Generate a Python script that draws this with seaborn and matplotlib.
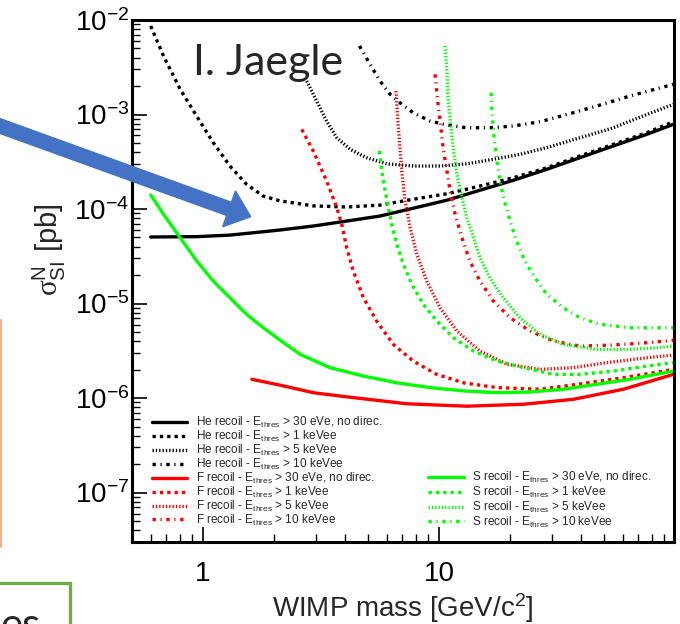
import numpy as np
import pandas as pd
import matplotlib
matplotlib.use("Agg")
import matplotlib.pyplot as plt
import seaborn as sns
from matplotlib.lines import Line2D
from matplotlib.patches import FancyArrow, Rectangle
from matplotlib.transforms import IdentityTransform
from matplotlib.ticker import NullFormatter

# ---------------- data (WIMP mass [GeV/c^2], sigma [pb]) ----------------
he_30_m = [0.60, 0.94, 1.30, 1.80, 2.12, 2.93, 4.06, 5.62, 7.78, 10.8, 14.9, 20.6, 28.6, 39.5, 54.8, 75.9, 98.4]
he_30_s = [5.06e-5, 5.1e-5, 5.3e-5, 5.75e-5, 6.0e-5, 6.61e-5, 7.46e-5, 8.43e-5, 1.02e-4, 1.24e-4, 1.58e-4, 2.01e-4, 2.63e-4, 3.49e-4, 4.65e-4, 6.17e-4, 7.87e-4]

he_1_m = [0.60, 0.68, 0.80, 0.94, 1.105, 1.30, 1.53, 1.80, 2.12, 2.93, 4.06, 5.62, 7.78, 10.8, 14.9, 20.6, 28.6, 39.5, 54.8, 75.9, 98.4]
he_1_s = [8.65e-3, 4.16e-3, 1.85e-3, 9.6e-4, 5.04e-4, 2.85e-4, 1.82e-4, 1.37e-4, 1.22e-4, 1.08e-4, 1.05e-4, 1.10e-4, 1.27e-4, 1.45e-4, 1.75e-4, 2.14e-4, 2.73e-4, 3.64e-4, 4.84e-4, 6.42e-4, 8.39e-4]

he_5_m = [2.75, 3.03, 3.34, 3.69, 4.20, 4.94, 6.00, 7.78, 10.1, 13.1, 17.0, 22.0, 28.6, 39.5, 54.8, 75.9, 98.4]
he_5_s = [2.26e-3, 1.39e-3, 8.5e-4, 5.67e-4, 4.28e-4, 3.49e-4, 3.01e-4, 2.85e-4, 2.85e-4, 3.01e-4, 3.36e-4, 3.79e-4, 4.46e-4, 5.67e-4, 7.24e-4, 1.0e-3, 1.28e-3]

he_10_m = [4.60, 5.10, 5.62, 6.20, 6.83, 7.78, 9.16, 10.8, 13.1, 16.4, 20.6, 26.8, 34.8, 46.6, 64.4, 98.4]
he_10_s = [5.31e-3, 3.40e-3, 2.26e-3, 1.64e-3, 1.33e-3, 1.04e-3, 8.53e-4, 7.74e-4, 7.24e-4, 7.24e-4, 7.55e-4, 8.39e-4, 1.0e-3, 1.23e-3, 1.57e-3, 2.09e-3]

f_30_m = [1.61, 2.12, 2.93, 3.81, 7.3, 13.1, 22.8, 37.1, 60.4, 98.4]
f_30_s = [1.58e-6, 1.37e-6, 1.14e-6, 1.05e-6, 8.7e-7, 8.2e-7, 8.6e-7, 9.7e-7, 1.24e-6, 1.78e-6]

f_1_m = [2.62, 2.93, 3.34, 3.69, 3.87, 4.06, 4.33, 4.78, 5.44, 6.40, 7.78, 9.78, 12.7, 17.6, 26.8, 37.1, 60.4, 98.4]
f_1_s = [6.96e-4, 4.11e-4, 1.98e-4, 1.03e-4, 6.89e-5, 3.89e-5, 2.21e-5, 1.15e-5, 6.53e-6, 3.70e-6, 2.46e-6, 1.78e-6, 1.45e-6, 1.29e-6, 1.24e-6, 1.38e-6, 1.64e-6, 2.01e-6]

f_5_m = [6.57, 6.66, 6.79, 6.95, 7.18, 7.54, 8.05, 8.87, 10.1, 11.9, 14.9, 19.4, 26.8, 37.1, 51.4, 75.9, 98.4]
f_5_s = [1.77e-3, 1.0e-3, 5.25e-4, 2.52e-4, 1.22e-4, 6.34e-5, 3.32e-5, 1.73e-5, 9.0e-6, 5.12e-6, 3.14e-6, 2.28e-6, 2.01e-6, 2.10e-6, 2.37e-6, 2.67e-6, 2.85e-6]

f_10_m = [9.62, 9.83, 10.1, 10.4, 10.8, 11.2, 11.7, 12.5, 13.5, 14.9, 17.0, 20.0, 24.3, 30.5, 39.5, 54.8, 75.9, 98.4]
f_10_s = [2.66e-3, 1.51e-3, 8.53e-4, 4.46e-4, 2.52e-4, 1.43e-4, 8.79e-5, 4.97e-5, 2.82e-5, 1.73e-5, 1.06e-5, 7.08e-6, 5.12e-6, 4.01e-6, 3.55e-6, 3.64e-6, 3.85e-6, 4.08e-6]

s_30_m = [0.60, 0.68, 0.80, 0.94, 1.105, 1.30, 1.53, 1.80, 2.12, 2.58, 3.45, 4.78, 6.62, 9.16, 12.7, 17.6, 24.3, 33.6, 46.6, 64.4, 98.4]
s_30_s = [1.41e-4, 8.8e-5, 4.97e-5, 2.82e-5, 1.73e-5, 1.15e-5, 7.69e-6, 5.55e-6, 4.1e-6, 2.90e-6, 2.10e-6, 1.71e-6, 1.45e-6, 1.29e-6, 1.19e-6, 1.14e-6, 1.16e-6, 1.24e-6, 1.40e-6, 1.58e-6, 1.93e-6]

s_1_m = [5.59, 5.72, 5.91, 6.10, 6.30, 6.62, 7.06, 7.66, 8.58, 9.78, 11.5, 14.0, 17.6, 22.8, 30.5, 39.5, 54.8, 75.9, 98.4]
s_1_s = [4.11e-4, 2.52e-4, 1.55e-4, 1.03e-4, 6.89e-5, 4.23e-5, 2.60e-5, 1.60e-5, 9.8e-6, 6.53e-6, 4.35e-6, 3.14e-6, 2.46e-6, 2.10e-6, 1.78e-6, 1.78e-6, 1.93e-6, 2.18e-6, 2.37e-6]

s_5_m = [10.6, 10.8, 10.9, 11.2, 11.5, 11.9, 12.5, 13.1, 14.0, 14.9, 16.4, 18.7, 22.0, 26.8, 33.6, 46.6, 64.4, 83.6, 98.4]
s_5_s = [5.31e-3, 2.89e-3, 1.51e-3, 7.87e-4, 4.11e-4, 2.33e-4, 1.32e-4, 8.09e-5, 4.97e-5, 3.05e-5, 1.87e-5, 1.15e-5, 7.08e-6, 4.72e-6, 3.70e-6, 3.27e-6, 3.27e-6, 3.40e-6, 3.55e-6]

s_10_m = [16.6, 16.8, 17.1, 17.6, 18.1, 18.9, 20.0, 21.3, 23.1, 25.5, 28.6, 33.6, 39.5, 48.1, 64.4, 83.6, 98.4]
s_10_s = [1.70e-3, 1.0e-3, 5.67e-4, 3.22e-4, 1.98e-4, 1.22e-4, 7.46e-5, 4.58e-5, 2.82e-5, 1.87e-5, 1.25e-5, 9.0e-6, 7.08e-6, 6.03e-6, 5.55e-6, 5.55e-6, 5.55e-6]

thresholds = ["> 30 eVe, no direc.", "> 1 keVee", "> 5 keVee", "> 10 keVee"]
recoils = ["He", "F", "S"]
x_tick_values = [1, 10]
x_tick_labels = ["1", "10"]

# ---------------- styling ----------------
sns.set_style("ticks")
plt.rcParams['font.family'] = ['Liberation Sans', 'DejaVu Sans']
plt.rcParams['mathtext.fontset'] = 'custom'
plt.rcParams['mathtext.rm'] = 'Liberation Serif'
plt.rcParams['mathtext.it'] = 'Liberation Serif:italic'
plt.rcParams['mathtext.bf'] = 'Liberation Serif:bold'
plt.rcParams['mathtext.default'] = 'regular'

colors = {"He": "#000000", "F": "#ff0000", "S": "#00ff00"}
line_styles = [
    dict(linestyle='-', linewidth=2.4),
    dict(linestyle=(0, (1.0, 1.2)), linewidth=2.4),
    dict(linestyle=(0, (0.4, 0.6)), linewidth=2.4),
    dict(linestyle=(0, (1.0, 1.4, 0.35, 1.4)), linewidth=2.4),
]

curves = {
    ("He", 0): (he_30_m, he_30_s), ("He", 1): (he_1_m, he_1_s),
    ("He", 2): (he_5_m, he_5_s), ("He", 3): (he_10_m, he_10_s),
    ("F", 0): (f_30_m, f_30_s), ("F", 1): (f_1_m, f_1_s),
    ("F", 2): (f_5_m, f_5_s), ("F", 3): (f_10_m, f_10_s),
    ("S", 0): (s_30_m, s_30_s), ("S", 1): (s_1_m, s_1_s),
    ("S", 2): (s_5_m, s_5_s), ("S", 3): (s_10_m, s_10_s),
}

frames = []
for (rec, k), (m, s) in curves.items():
    frames.append(pd.DataFrame({"mass": m, "sigma": s,
                                "recoil": rec, "thr": k}))
df = pd.concat(frames, ignore_index=True)

W, H = 680, 624
fig = plt.figure(figsize=(W / 100, H / 100), dpi=100)
ax = fig.add_axes([132 / W, (H - 542) / H, (673.5 - 132) / W, (542 - 20) / H])
ax.set_xscale('log')
ax.set_yscale('log')

for (rec, k) in curves:
    sub = df[(df.recoil == rec) & (df.thr == k)]
    sns.lineplot(data=sub, x="mass", y="sigma", ax=ax, color=colors[rec],
                 estimator=None, sort=False, errorbar=None, legend=False,
                 **line_styles[k])

ax.set_xlim(0.5, 98.5)
ax.set_ylim(3e-8, 1e-2)

for sp in ax.spines.values():
    sp.set_visible(True)
    sp.set_linewidth(2.2)
    sp.set_color('black')

ax.set_xticks(x_tick_values, labels=x_tick_labels)
ax.xaxis.set_minor_formatter(NullFormatter())
ax.tick_params(which='both', direction='in', top=False, right=False, colors='black')
ax.tick_params(which='major', length=10.8, width=1.2, labelsize=20)
ax.tick_params(which='minor', length=5.8, width=1.0)
ax.tick_params(axis='x', which='major', pad=14)
ax.tick_params(axis='y', which='major', pad=2)

ax.set_xlabel("WIMP mass [GeV/c$^{2}$]", fontsize=20)
ax.xaxis.set_label_coords(0.5, -0.094)
ax.set_ylabel(r"$\mathrm{\sigma}_{SI}^{N}$ [pb]", fontsize=21)
ax.yaxis.set_label_coords(-0.118, 0.56)

def lab(rec, k):
    return f"{rec} recoil - E$_{{thres}}$ {thresholds[k]}"

h_left, l_left, h_right, l_right = [], [], [], []
for (rec, k) in curves:
    h = Line2D([], [], color=colors[rec], **line_styles[k])
    if rec == "S":
        h_right.append(h); l_right.append(lab(rec, k))
    else:
        h_left.append(h); l_left.append(lab(rec, k))

leg_kw = dict(frameon=False, fontsize=8.5, handlelength=3.0, handletextpad=0.75,
              borderpad=0, borderaxespad=0, loc='upper left')
leg1 = ax.legend(h_left, l_left, bbox_to_anchor=(0.037, 0.243),
                 labelspacing=-0.1, **leg_kw)
ax.add_artist(leg1)
ax.legend(h_right, l_right, bbox_to_anchor=(0.547, 0.138),
          labelspacing=-0.02, **leg_kw)

# ---------------- slide decorations ----------------
fig.text(193 / W, 1 - 75 / H, "I. Jaegle", fontsize=31,
         family=['Lato', 'DejaVu Sans'], ha='left', va='baseline')

idt = IdentityTransform()
arrow = FancyArrow(-20, H - 118.8, 270.7, -97.9, width=14, head_width=38,
                   head_length=23, length_includes_head=True,
                   color='#4472C4', transform=idt)
fig.add_artist(arrow)

fig.add_artist(Line2D([0.8, 0.8], [H - 320, H - 547], transform=idt,
                      color='#F4B183', linewidth=1.5))
fig.add_artist(Rectangle((-10, H - 630), 80, 47, transform=idt,
                         fill=False, edgecolor='#70AD47', linewidth=2.4))
fig.text(0, H - 638, "es", transform=idt, fontsize=30,
         family=['Lato', 'DejaVu Sans'], ha='left', va='baseline')

fig.savefig("out.png", dpi=100)
